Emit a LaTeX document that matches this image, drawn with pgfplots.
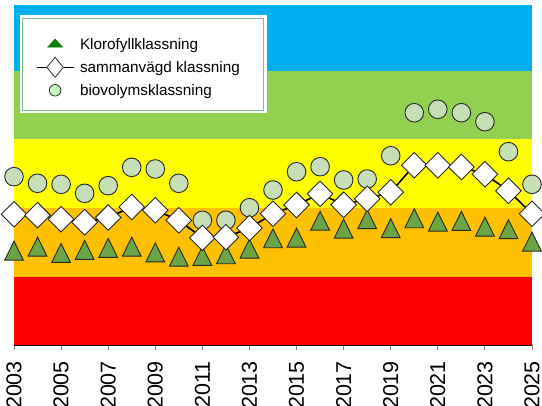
\documentclass[border=0pt]{standalone}
\usepackage{fontspec}
\setmainfont{Liberation Sans}
\usepackage{pgfplots}
\usepackage{pgfplotstable}
\pgfplotsset{compat=1.18}

\definecolor{bandblue}{HTML}{00B0F0}
\definecolor{bandgreen}{HTML}{92D050}
\definecolor{bandyellow}{HTML}{FFFF00}
\definecolor{bandorange}{HTML}{FFC000}
\definecolor{bandred}{HTML}{FF0000}
\definecolor{trifill}{HTML}{6AA646}
\definecolor{circfill}{HTML}{C6DFB6}
\definecolor{legtri}{HTML}{0A7A0A}
\definecolor{legcirc}{HTML}{C4F5C0}
\definecolor{legborder}{HTML}{7DBF8C}

% klassning per year: chlorophyll, combined, biovolume
\pgfplotstableread{
year tri   dia   circ
2003 1.333 1.910 2.456
2004 1.392 1.895 2.360
2005 1.300 1.837 2.345
2006 1.344 1.793 2.214
2007 1.373 1.862 2.325
2008 1.392 2.015 2.592
2009 1.307 1.967 2.568
2010 1.246 1.821 2.360
2011 1.256 1.566 1.821
2012 1.281 1.575 1.821
2013 1.363 1.709 2.004
2014 1.514 1.916 2.262
2015 1.523 2.044 2.528
2016 1.770 2.207 2.601
2017 1.654 2.047 2.408
2018 1.791 2.134 2.422
2019 1.660 2.229 2.761
2020 1.805 2.622 3.387
2021 1.756 2.622 3.437
2022 1.766 2.597 3.387
2023 1.683 2.492 3.256
2024 1.646 2.250 2.820
2025 1.464 1.917 2.345
}\klass

\begin{document}
\begin{tikzpicture}
\begin{axis}[
  scale only axis,
  width=518pt, height=340.4pt,
  xmin=2003, xmax=2025, ymin=0, ymax=4.955,
  axis x line*=bottom, axis y line=none,
  axis on top,
  axis line style={black, line width=0.8pt},
  xtick={2003,2005,...,2025},
  tick align=outside,
  major tick length=4.5pt,
  tick style={gray, line width=1pt},
  xticklabel style={rotate=90, anchor=east, inner xsep=11pt,
    font=\fontsize{21.5}{24}\selectfont,
    /pgf/number format/1000 sep=,
    /pgf/number format/assume math mode=true},
  legend cell align=left,
  legend style={at={(rel axis cs:0.0168,0.9609)}, anchor=north west,
    fill=none, draw=none,
    inner xsep=13.3pt, inner ysep=12.1pt, row sep=0pt, column sep=6pt,
    font=\fontsize{15.3}{18}\selectfont, nodes={inner sep=0pt}},
]
% class bands
\addplot[draw=none, fill=bandred, forget plot] coordinates {(2003,0) (2025,0) (2025,1) (2003,1)};
\addplot[draw=none, fill=bandorange, forget plot] coordinates {(2003,1) (2025,1) (2025,2) (2003,2)};
\addplot[draw=none, fill=bandyellow, forget plot] coordinates {(2003,2) (2025,2) (2025,3) (2003,3)};
\addplot[draw=none, fill=bandgreen, forget plot] coordinates {(2003,3) (2025,3) (2025,4) (2003,4)};
\addplot[draw=none, fill=bandblue, forget plot] coordinates {(2003,4) (2025,4) (2025,5) (2003,5)};

% legend entries in the reference's order
\addlegendimage{legend image code/.code={
  \path (0pt,-11.25pt) (37pt,13.65pt);
  \draw[only marks, mark=triangle*, mark size=8.66pt,
    mark options={fill=legtri, draw=legtri, line width=0.5pt, yscale=0.62}]
    plot coordinates {(18.5pt,0pt)};}}
\addlegendentry{\makebox[170.9pt][l]{Klorofyllklassning}}
\addlegendimage{legend image code/.code={
  \path (0pt,-11.25pt) (37pt,11.25pt);
  \draw[black, line width=0.8pt] (0pt,0pt) -- (37pt,0pt);
  \draw[only marks, mark=diamond*, mark size=10pt,
    mark options={fill=white, draw=black!80, line width=0.8pt, xscale=1.1}]
    plot coordinates {(18.5pt,0pt)};}}
\addlegendentry{\makebox[170.9pt][l]{sammanvägd klassning}}
\addlegendimage{legend image code/.code={
  \path (0pt,-9pt) (37pt,11.25pt);
  \draw[only marks, mark=*, mark size=5.8pt,
    mark options={fill=legcirc, draw=black!80, line width=0.8pt}]
    plot coordinates {(18.5pt,0pt)};}}
\addlegendentry{\makebox[170.9pt][l]{biovolymsklassning}}

\addplot[forget plot, only marks, mark=*, mark size=9.3pt,
  mark options={fill=circfill, draw=black!85, line width=0.9pt}]
  table[x=year, y=circ] {\klass};
\addplot[forget plot, only marks, mark=triangle*, mark size=10.8pt,
  mark options={fill=trifill, draw=black!85, line width=0.9pt, yscale=1.17}]
  table[x=year, y=tri] {\klass};
\addplot[forget plot, black, line width=1.6pt, mark=square*, mark size=9.05pt,
  mark options={fill=white, draw=black!85, line width=0.9pt, rotate=45}]
  table[x=year, y=dia] {\klass};

% legend frame: white outer edge, thin green line
\draw[legborder, line width=1pt, fill=white, preaction={draw=white, line width=6pt}]
  (rel axis cs:0.0168,0.9609) rectangle (rel axis cs:0.4817,0.6915);

\coordinate (bl) at (rel axis cs:0,0);
\coordinate (tr) at (rel axis cs:1,1);
\end{axis}
\pgfresetboundingbox
\path[use as bounding box] ([shift={(-14pt,-59.6pt)}]bl) rectangle ([shift={(10pt,5pt)}]tr);
\end{tikzpicture}
\end{document}
